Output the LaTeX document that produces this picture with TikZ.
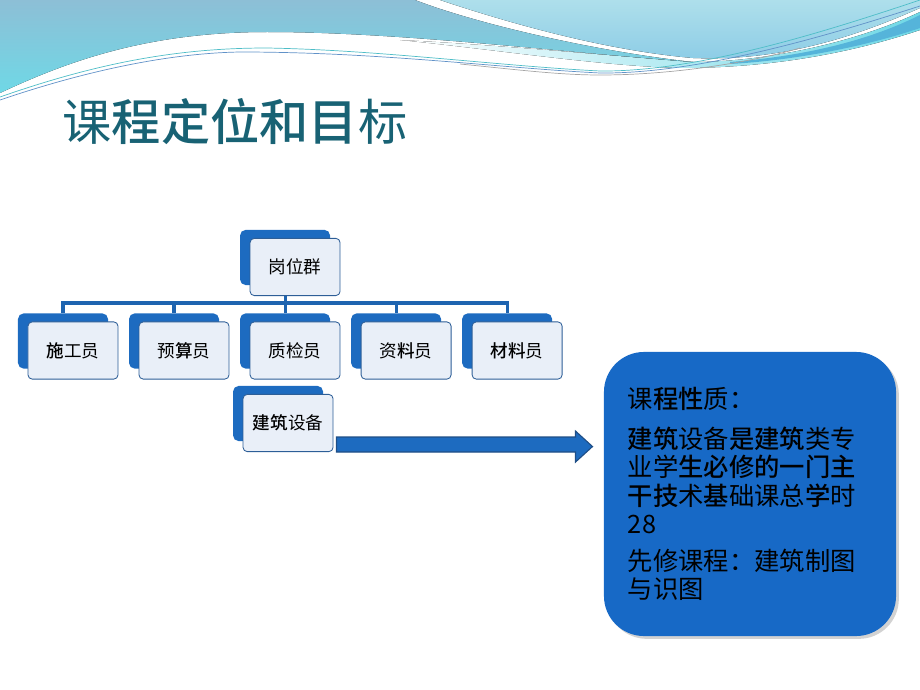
\documentclass[tikz,border=0pt]{standalone}
\usepackage{fontspec}
\setmainfont{Noto Sans CJK SC}[BoldFont={Noto Sans CJK SC Medium}]
\usetikzlibrary{positioning,backgrounds,shadows}
\definecolor{boxblue}{HTML}{1D6BC0}
\definecolor{frontfill}{HTML}{E9EFF8}
\definecolor{frontline}{HTML}{2D5E97}
\definecolor{linkblue}{HTML}{1E64B0}
\definecolor{arrowline}{HTML}{1F4E86}
\definecolor{bigblue}{HTML}{1769C6}
\definecolor{titleteal}{HTML}{186274}
\definecolor{waveA}{HTML}{8DBFD6}
\definecolor{waveB}{HTML}{6FD8E6}
\definecolor{waveC}{HTML}{AEDFEB}
\definecolor{waveD}{HTML}{8CCCE6}
\definecolor{waveE}{HTML}{55B4DA}

\begin{document}
\begin{tikzpicture}[x=0.025cm,y=-0.025cm,node distance=2.775cm,on grid,
	front/.style={draw=frontline,line width=0.6pt,fill=frontfill,rounded corners=3pt,
		minimum width=2.25cm,minimum height=1.43cm,font=\fontsize{12.5}{14}\selectfont},
	back/.style={fill=boxblue,rounded corners=4pt,minimum width=2.25cm,minimum height=1.38cm},
	link/.style={draw=linkblue,line width=2.2pt},
	bigarrow/.style={fill=boxblue,draw=arrowline,line width=0.8pt},
	kbox/.style={fill=bigblue,rounded corners=1cm,text width=6.1cm,inner xsep=0.6cm,
		minimum height=7.1cm,align=left,font=\fontsize{18}{20.2}\selectfont,
		drop shadow={shadow xshift=2pt,shadow yshift=-2pt,fill=black!35}},
	title/.style={text=titleteal,font=\fontsize{35}{40}\selectfont}]
	\useasboundingbox (0,0) rectangle (920,690);

	% waves at the top
	\fill[top color=waveC,bottom color=waveD] (440,0) .. controls (500,20) and (600,50) .. (693,58)
		.. controls (790,62) and (870,30) .. (920,8) -- (920,0) -- cycle;
	\fill[left color=white,right color=waveB] (400,40) .. controls (500,50) and (600,66) .. (680,68)
		.. controls (780,68) and (860,50) .. (920,30) -- (920,12) .. controls (850,45) and (760,62) .. (693,62)
		.. controls (600,55) and (500,45) .. (400,40) -- cycle;
	\fill[waveE] (730,62) .. controls (820,55) and (880,35) .. (920,15) -- (920,28)
		.. controls (870,45) and (800,60) .. (730,64) -- cycle;
	\fill[top color=waveA,bottom color=waveB] (0,0) -- (0,93) .. controls (70,60) and (150,32) .. (267,32)
		.. controls (400,32) and (560,52) .. (693,62) .. controls (600,52) and (480,25) .. (415,0) -- cycle;
	\draw[color=waveB!70!teal,line width=0.5pt] (0,97) .. controls (100,62) and (180,48) .. (267,48)
		.. controls (380,50) and (500,66) .. (600,71) .. controls (700,72) and (830,30) .. (920,0);
	\draw[color=linkblue!70,line width=0.5pt] (0,100) .. controls (100,66) and (180,53) .. (240,52)
		.. controls (380,52) and (500,68) .. (600,73) .. controls (700,74) and (830,35) .. (920,6);
	\draw[color=gray!70,line width=0.5pt] (460,64) .. controls (520,70) and (560,75) .. (600,75)
		.. controls (680,75) and (760,60) .. (800,48);

	\node[title] (t) at (235,122) {课\textbf{程定位和目}标};

	\node[front] (p_1) at (73,350.5) {\textbf{施}工员};
	\node[front] (p_2) [right=of p_1] {预\textbf{算}员};
	\node[front] (p_3) [right=of p_2] {质检员};
	\node[front] (p_4) [right=of p_3] {资\textbf{料}员};
	\node[front] (p_5) [right=of p_4] {\textbf{材料}员};
	\node[front] (p_0) [above=2.0875cm of p_3] {岗位群};
	\node[front] (p_6) [below left=1.8125cm and 0.175cm of p_3] {\textbf{建筑}设备};

	\begin{pgfonlayer}{background}
		\foreach \i in {0,...,6}
			\node[back] (b_\i) at ([shift={(-10,-9.5)}]p_\i) {};
		\foreach \i in {1,...,5}
			\draw[link] (b_0.south |- p_0.south) -- ++(0,7) -| (b_\i.north);
	\end{pgfonlayer}

	\node[kbox] (k) at (750,494) {课\textbf{程性}质：\\[8pt]
		\textbf{建筑}设备\textbf{是建筑}类专\\
		业学\textbf{生必修的一门主}\\
		\textbf{干技}术\textbf{基}础课总\textbf{学}时\\
		28\\[6pt]
		先修课程：建筑制图\\
		与识图};

	\draw[bigarrow] ([xshift=0.075cm]p_6.south east) -- ++(239,0) -- ++(0,10) -- ++(17,-15.5)
		-- ++(-17,-15.5) -- ++(0,6) -- ++(-239,0) -- cycle;
\end{tikzpicture}
\end{document}
